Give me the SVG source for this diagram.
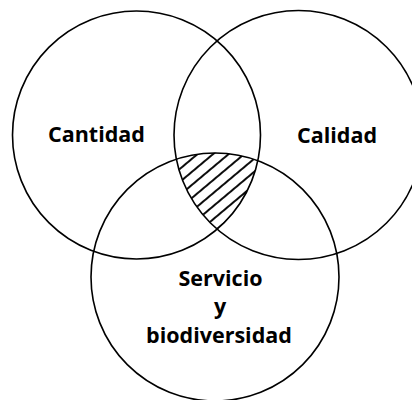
<svg xmlns="http://www.w3.org/2000/svg" width="412" height="400" viewBox="0 0 412 400">
  <style>
    .ring { fill: none; stroke: #000; stroke-width: 1.6; }
    .lbl { font-family: "Open Sans", "Liberation Sans", sans-serif; font-weight: bold; font-size: 21.5px; fill: #000; text-anchor: middle; }
  </style>
  <defs>
    <pattern id="hatch" patternUnits="userSpaceOnUse" width="10" height="10" patternTransform="rotate(-40)">
      <line x1="-1" y1="5" x2="11" y2="5" stroke="#000" stroke-width="1.9"/>
    </pattern>
    <clipPath id="core">
      <path d="M176.8,159 A124,124 0 0 1 257.8,160.6 A124,124 0 0 1 217.5,228.8 A124,124 0 0 1 176.8,159 Z"/>
    </clipPath>
  </defs>
  <g id="overlap">
    <rect x="170" y="150" width="95" height="85" fill="url(#hatch)" clip-path="url(#core)"/>
  </g>
  <g id="cantidad">
    <circle class="ring" cx="136.5" cy="135" r="124"/>
    <text class="lbl" x="96.5" y="142">Cantidad</text>
  </g>
  <g id="calidad">
    <circle class="ring" cx="298.5" cy="135" r="124.5"/>
    <text class="lbl" x="337" y="142.5">Calidad</text>
  </g>
  <g id="servicio">
    <circle class="ring" cx="215" cy="277" r="124"/>
    <text class="lbl" x="220.5" y="286">Servicio</text>
    <text class="lbl" x="220" y="314">y</text>
    <text class="lbl" x="219" y="342.5">biodiversidad</text>
  </g>
  <g id="connectors"/>
</svg>
